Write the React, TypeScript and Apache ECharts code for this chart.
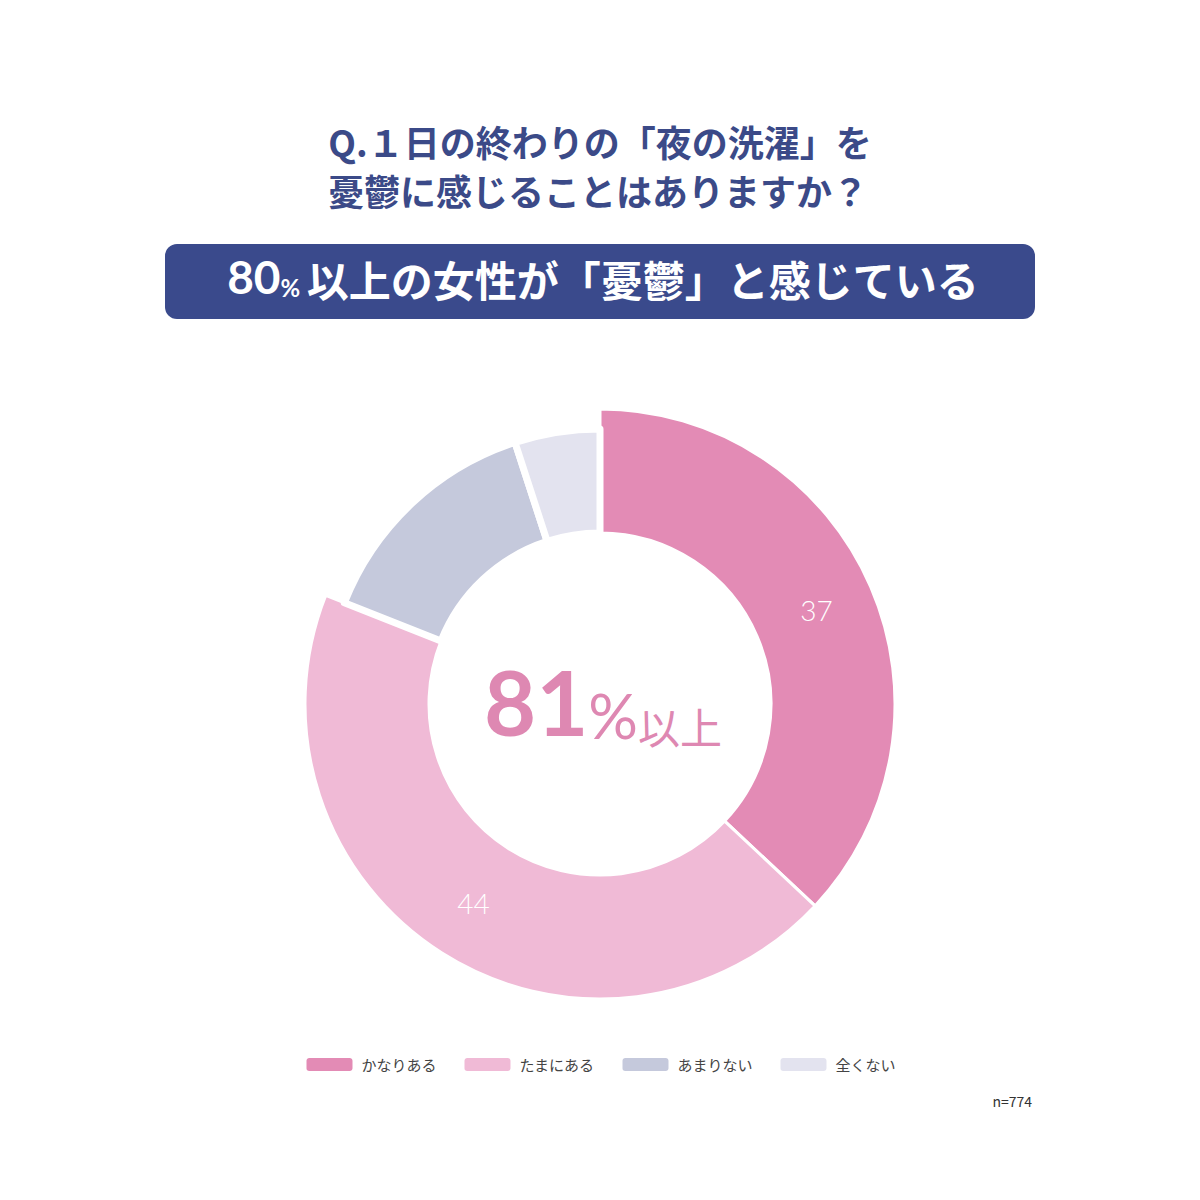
import React, { useEffect, useRef } from 'react'
import * as echarts from 'echarts'

const categories = ['かなりある', 'たまにある', 'あまりない', '全くない']
const values = [37, 44, 14, 5]
const colors = ['#E38BB5', '#F0BAD6', '#C5C9DC', '#E3E3EF']
// first two slices sit on the wider ring, the rest on the narrower one
const wideCount = 2
const titleLines = ['Q.１日の終わりの「夜の洗濯」を', '憂鬱に感じることはありますか？']
const bannerText = '以上の女性が「憂鬱」と感じている'
const centerValue = 81
const sampleSize = 774

const JP = '"Noto Sans CJK JP", "Noto Sans", sans-serif'
const NAVY = '#3B4A88'

export default function App(): JSX.Element {
  const ref = useRef<HTMLDivElement>(null)

  useEffect(() => {
    if (!ref.current) return
    const chart = echarts.init(ref.current, undefined, { renderer: 'svg' })

    const sum = (a: number[]) => a.reduce((s, v) => s + v, 0)
    const hidden = { itemStyle: { opacity: 0 }, label: { show: false }, emphasis: { disabled: true } }

    const wideData = [
      ...categories.slice(0, wideCount).map((name, i) => ({ name, value: values[i], itemStyle: { color: colors[i] } })),
      { name: '_rest', value: sum(values.slice(wideCount)), ...hidden },
    ]
    const narrowData = [
      { name: '_lead', value: sum(values.slice(0, wideCount)), ...hidden },
      ...categories.slice(wideCount).map((name, i) => ({
        name, value: values[i + wideCount], itemStyle: { color: colors[i + wideCount] },
      })),
    ]

    chart.setOption({
      animation: false,
      backgroundColor: '#ffffff',
      legend: {
        data: categories,
        top: 1051,
        left: 'center',
        icon: 'roundRect',
        itemWidth: 48,
        itemHeight: 15,
        itemGap: 26,
        selectedMode: false,
        textStyle: { fontSize: 15, color: '#444', fontFamily: JP, padding: [0, 0, 0, 3] },
      },
      series: [
        {
          type: 'pie',
          center: [600, 704],
          radius: [171, 295],
          startAngle: 90,
          clockwise: true,
          avoidLabelOverlap: false,
          itemStyle: { borderColor: '#fff', borderWidth: 3 },
          label: {
            show: true,
            position: 'inside',
            formatter: '{c}',
            color: '#fff',
            fontSize: 28,
            fontWeight: 300,
            fontFamily: 'Lato, "Noto Sans", sans-serif',
          },
          labelLine: { show: false },
          data: wideData,
        },
        {
          type: 'pie',
          center: [600, 704],
          radius: [171, 275],
          startAngle: 90,
          clockwise: true,
          itemStyle: { borderColor: '#fff', borderWidth: 7 },
          label: { show: false },
          labelLine: { show: false },
          data: narrowData,
        },
      ],
      graphic: [
        {
          type: 'text', x: 600, y: 141,
          style: { text: titleLines[0], fill: NAVY, font: `bold 36px ${JP}`, align: 'center', verticalAlign: 'middle' },
        },
        {
          type: 'text', x: 598, y: 190,
          style: { text: titleLines[1], fill: NAVY, font: `bold 36px ${JP}`, align: 'center', verticalAlign: 'middle' },
        },
        {
          type: 'rect',
          shape: { x: 165, y: 244, width: 870, height: 75, r: 12 },
          style: { fill: '#3A4A8C' },
        },
        {
          type: 'text', x: 603, y: 276,
          style: {
            text: `{n|80}{p|%}  {t|${bannerText}}`,
            align: 'center', verticalAlign: 'middle',
            rich: {
              n: { fontSize: 46, fontWeight: 'bold', fill: '#fff', fontFamily: 'Lato, sans-serif', verticalAlign: 'bottom', lineHeight: 46 },
              p: { fontSize: 24, fontWeight: 'bold', fill: '#fff', fontFamily: 'Lato, sans-serif', verticalAlign: 'bottom', lineHeight: 37 },
              t: { fontSize: 42, fontWeight: 'bold', fill: '#fff', fontFamily: JP, verticalAlign: 'bottom', lineHeight: 46 },
            },
          },
        },
        {
          type: 'text', x: 603, y: 701,
          style: {
            text: `{a|${centerValue}}{b|%}{c|以上}`,
            align: 'center', verticalAlign: 'middle',
            rich: {
              a: { fontSize: 90, fontWeight: 'bold', fill: '#DE88B2', fontFamily: 'Lato, sans-serif', verticalAlign: 'bottom', lineHeight: 90 },
              b: { fontSize: 62, fontWeight: 'normal', fill: '#DE88B2', fontFamily: 'Lato, sans-serif', verticalAlign: 'bottom', lineHeight: 66 },
              c: { fontSize: 42, fontWeight: 'normal', fill: '#DE88B2', fontFamily: JP, verticalAlign: 'bottom', lineHeight: 50 },
            },
          },
        },
        {
          type: 'text', x: 1032, y: 1101,
          style: { text: `n=${sampleSize}`, fill: '#333', font: `14px ${JP}`, align: 'right', verticalAlign: 'middle' },
        },
      ],
    })

    return () => { chart.dispose() }
  }, [])

  return <div ref={ref} style={{ position: 'fixed', left: 0, top: 0, width: 1200, height: 1200 }} />
}
